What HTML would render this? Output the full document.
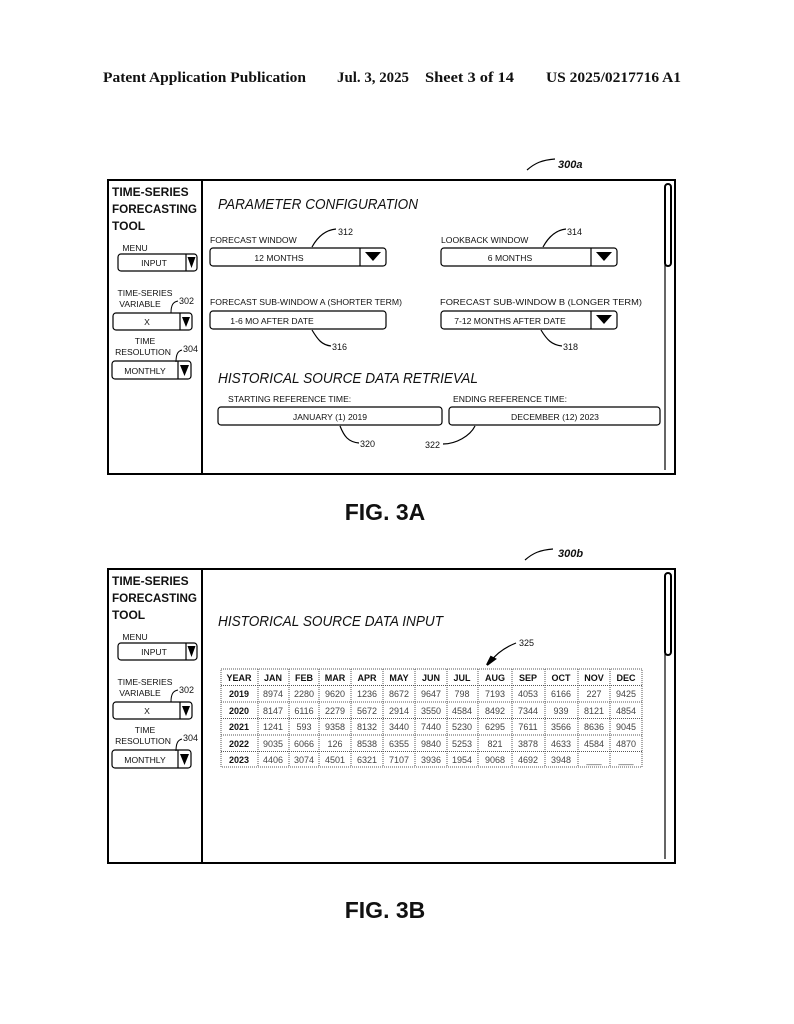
<!DOCTYPE html>
<html><head><meta charset="utf-8"><style>
html,body{margin:0;padding:0;background:#fff}
svg{display:block}
text{font-family:"Liberation Sans",sans-serif;fill:#111}
.h{font-family:"Liberation Serif",serif;font-weight:bold;font-size:14.5px}
.b{font-weight:bold;font-size:12px}
.s{font-size:8.6px}
.it{font-style:italic;font-size:15px}
.f{font-weight:bold;font-size:23px}
.n{font-size:9px}
.tb{font-weight:bold;font-size:9px}
.tn{font-size:9px;fill:#444}
</style></head><body>
<svg width="794" height="1024" viewBox="0 0 794 1024" xmlns="http://www.w3.org/2000/svg">
<text class="h" x="103" y="82" textLength="203" lengthAdjust="spacingAndGlyphs">Patent Application Publication</text>
<text class="h" x="337" y="82" textLength="72" lengthAdjust="spacingAndGlyphs">Jul. 3, 2025</text>
<text class="h" x="425" y="82" textLength="89" lengthAdjust="spacingAndGlyphs">Sheet 3 of 14</text>
<text class="h" x="546" y="82" textLength="135" lengthAdjust="spacingAndGlyphs">US 2025/0217716 A1</text>

<g fill="none" stroke="#000" stroke-width="1.2">
<rect x="108" y="180" width="567" height="294" stroke-width="2"/>
<line x1="202" y1="180" x2="202" y2="474" stroke-width="2"/>
<line x1="665" y1="190" x2="665" y2="470"/>
<rect x="665" y="184" width="6" height="82" rx="3" stroke-width="2"/>
<rect x="108" y="569" width="567" height="294" stroke-width="2"/>
<line x1="202" y1="569" x2="202" y2="863" stroke-width="2"/>
<line x1="665" y1="579" x2="665" y2="859"/>
<rect x="665" y="573" width="6" height="82" rx="3" stroke-width="2"/>
</g>

<g id="sb">
<text class="b" x="112" y="196">TIME-SERIES</text>
<text class="b" x="112" y="213" textLength="85" lengthAdjust="spacingAndGlyphs">FORECASTING</text>
<text class="b" x="112" y="230">TOOL</text>
<text class="s" x="135" y="251" text-anchor="middle">MENU</text>
<rect x="118" y="254" width="79" height="17" rx="3" fill="none" stroke="#000" stroke-width="1.2"/>
<line x1="186" y1="254" x2="186" y2="271" stroke="#000" stroke-width="1.2"/>
<path d="M187.5 257 L195.5 257 L191.5 268Z" fill="#000"/>
<text class="s" x="154" y="266" text-anchor="middle">INPUT</text>
<text class="s" x="145" y="296" text-anchor="middle">TIME-SERIES</text>
<text class="s" x="140" y="307" text-anchor="middle">VARIABLE</text>
<text class="n" x="179" y="304">302</text>
<path d="M171 313 C171 305 173 302 178 301" fill="none" stroke="#000"/>
<rect x="113" y="313" width="79" height="17" rx="3" fill="none" stroke="#000" stroke-width="1.2"/>
<line x1="180" y1="313" x2="180" y2="330" stroke="#000" stroke-width="1.2"/>
<path d="M182 317 L190 317 L186 327Z" fill="#000"/>
<text class="s" x="147" y="325" text-anchor="middle">X</text>
<text class="s" x="145" y="344" text-anchor="middle">TIME</text>
<text class="s" x="143" y="355" text-anchor="middle">RESOLUTION</text>
<text class="n" x="183" y="352">304</text>
<path d="M176 362 C176 354 178 351 182 350" fill="none" stroke="#000"/>
<rect x="112" y="361" width="79" height="18" rx="3" fill="none" stroke="#000" stroke-width="1.2"/>
<line x1="178" y1="361" x2="178" y2="379" stroke="#000" stroke-width="1.2"/>
<path d="M180 365 L189 365 L184.5 376Z" fill="#000"/>
<text class="s" x="145" y="374" text-anchor="middle">MONTHLY</text>
</g>
<use href="#sb" transform="translate(0,389)"/>

<text class="it" x="218" y="209" textLength="200" lengthAdjust="spacingAndGlyphs">PARAMETER CONFIGURATION</text>
<g fill="none" stroke="#000" stroke-width="1.2">
<rect x="210" y="248" width="176" height="18" rx="3"/><line x1="360" y1="248" x2="360" y2="266"/>
<rect x="441" y="248" width="176" height="18" rx="3"/><line x1="591" y1="248" x2="591" y2="266"/>
<rect x="210" y="311" width="176" height="18" rx="3"/>
<rect x="441" y="311" width="176" height="18" rx="3"/><line x1="591" y1="311" x2="591" y2="329"/>
<rect x="218" y="407" width="224" height="18" rx="3"/>
<rect x="449" y="407" width="211" height="18" rx="3"/>
<path d="M312 247 C318 236 326 230 336 229"/>
<path d="M543 247 C549 236 557 230 566 229"/>
<path d="M312 330 C318 340 322 345 331 346"/>
<path d="M541 330 C547 340 552 345 562 346"/>
<path d="M340 426 C344 436 348 442 359 443"/>
<path d="M475 426 C470 436 456 444 443 444"/>
<path d="M527 170 C535 163 542 160 555 159"/>
<path d="M525 560 C533 553 540 550 553 549"/>
<path d="M516 643 C506 647 497 653 491 661"/>
</g>
<path d="M365 252 L381 252 L373 261Z" fill="#000"/>
<path d="M596 252 L612 252 L604 261Z" fill="#000"/>
<path d="M596 315 L612 315 L604 324Z" fill="#000"/>
<path d="M487 665 L495 659 L491 657Z" fill="#000" stroke="#000" stroke-width="2"/>
<text class="s" x="210" y="243">FORECAST WINDOW</text>
<text class="n" x="338" y="235">312</text>
<text class="s" x="279" y="261" text-anchor="middle">12 MONTHS</text>
<text class="s" x="441" y="243">LOOKBACK WINDOW</text>
<text class="n" x="567" y="235">314</text>
<text class="s" x="510" y="261" text-anchor="middle">6 MONTHS</text>
<text class="s" x="210" y="305" textLength="192" lengthAdjust="spacingAndGlyphs">FORECAST SUB-WINDOW A (SHORTER TERM)</text>
<text class="s" x="272" y="324" text-anchor="middle">1-6 MO AFTER DATE</text>
<text class="n" x="332" y="350">316</text>
<text class="s" x="440" y="305" textLength="202" lengthAdjust="spacingAndGlyphs">FORECAST SUB-WINDOW B (LONGER TERM)</text>
<text class="s" x="510" y="324" text-anchor="middle">7-12 MONTHS AFTER DATE</text>
<text class="n" x="563" y="350">318</text>
<text class="it" x="218" y="383" textLength="260" lengthAdjust="spacingAndGlyphs">HISTORICAL SOURCE DATA RETRIEVAL</text>
<text class="s" x="228" y="402">STARTING REFERENCE TIME:</text>
<text class="s" x="330" y="420" text-anchor="middle">JANUARY (1) 2019</text>
<text class="n" x="360" y="447">320</text>
<text class="s" x="453" y="402">ENDING REFERENCE TIME:</text>
<text class="s" x="555" y="420" text-anchor="middle">DECEMBER (12) 2023</text>
<text class="n" x="425" y="448">322</text>
<text style="font-weight:bold;font-style:italic;font-size:11px" x="558" y="168">300a</text>
<text class="f" x="385" y="520" text-anchor="middle">FIG. 3A</text>

<text class="it" x="218" y="626" textLength="225" lengthAdjust="spacingAndGlyphs">HISTORICAL SOURCE DATA INPUT</text>
<text class="n" x="519" y="646">325</text>
<text style="font-weight:bold;font-style:italic;font-size:11px" x="558" y="557">300b</text>
<g fill="none" stroke="#555" stroke-width="1" stroke-dasharray="1,1">
<rect x="221" y="669" width="421" height="98"/>
<line x1="221" y1="685.5" x2="642" y2="685.5"/><line x1="221" y1="702" x2="642" y2="702"/>
<line x1="221" y1="718.5" x2="642" y2="718.5"/><line x1="221" y1="735" x2="642" y2="735"/>
<line x1="221" y1="751.5" x2="642" y2="751.5"/>
<line x1="258" y1="669" x2="258" y2="767"/><line x1="289" y1="669" x2="289" y2="767"/>
<line x1="319" y1="669" x2="319" y2="767"/><line x1="351" y1="669" x2="351" y2="767"/>
<line x1="383" y1="669" x2="383" y2="767"/><line x1="415" y1="669" x2="415" y2="767"/>
<line x1="447" y1="669" x2="447" y2="767"/><line x1="478" y1="669" x2="478" y2="767"/>
<line x1="512" y1="669" x2="512" y2="767"/><line x1="545" y1="669" x2="545" y2="767"/>
<line x1="578" y1="669" x2="578" y2="767"/><line x1="610" y1="669" x2="610" y2="767"/>
</g>
<g text-anchor="middle">
<text class="tb" x="239" y="681">YEAR</text><text class="tb" x="273" y="681">JAN</text><text class="tb" x="304" y="681">FEB</text><text class="tb" x="335" y="681">MAR</text><text class="tb" x="367" y="681">APR</text><text class="tb" x="399" y="681">MAY</text><text class="tb" x="431" y="681">JUN</text><text class="tb" x="462" y="681">JUL</text><text class="tb" x="495" y="681">AUG</text><text class="tb" x="528" y="681">SEP</text><text class="tb" x="561" y="681">OCT</text><text class="tb" x="594" y="681">NOV</text><text class="tb" x="626" y="681">DEC</text>
<text class="tb" x="239" y="697">2019</text><text class="tn" x="273" y="697">8974</text><text class="tn" x="304" y="697">2280</text><text class="tn" x="335" y="697">9620</text><text class="tn" x="367" y="697">1236</text><text class="tn" x="399" y="697">8672</text><text class="tn" x="431" y="697">9647</text><text class="tn" x="462" y="697">798</text><text class="tn" x="495" y="697">7193</text><text class="tn" x="528" y="697">4053</text><text class="tn" x="561" y="697">6166</text><text class="tn" x="594" y="697">227</text><text class="tn" x="626" y="697">9425</text>
<text class="tb" x="239" y="714">2020</text><text class="tn" x="273" y="714">8147</text><text class="tn" x="304" y="714">6116</text><text class="tn" x="335" y="714">2279</text><text class="tn" x="367" y="714">5672</text><text class="tn" x="399" y="714">2914</text><text class="tn" x="431" y="714">3550</text><text class="tn" x="462" y="714">4584</text><text class="tn" x="495" y="714">8492</text><text class="tn" x="528" y="714">7344</text><text class="tn" x="561" y="714">939</text><text class="tn" x="594" y="714">8121</text><text class="tn" x="626" y="714">4854</text>
<text class="tb" x="239" y="730">2021</text><text class="tn" x="273" y="730">1241</text><text class="tn" x="304" y="730">593</text><text class="tn" x="335" y="730">9358</text><text class="tn" x="367" y="730">8132</text><text class="tn" x="399" y="730">3440</text><text class="tn" x="431" y="730">7440</text><text class="tn" x="462" y="730">5230</text><text class="tn" x="495" y="730">6295</text><text class="tn" x="528" y="730">7611</text><text class="tn" x="561" y="730">3566</text><text class="tn" x="594" y="730">8636</text><text class="tn" x="626" y="730">9045</text>
<text class="tb" x="239" y="747">2022</text><text class="tn" x="273" y="747">9035</text><text class="tn" x="304" y="747">6066</text><text class="tn" x="335" y="747">126</text><text class="tn" x="367" y="747">8538</text><text class="tn" x="399" y="747">6355</text><text class="tn" x="431" y="747">9840</text><text class="tn" x="462" y="747">5253</text><text class="tn" x="495" y="747">821</text><text class="tn" x="528" y="747">3878</text><text class="tn" x="561" y="747">4633</text><text class="tn" x="594" y="747">4584</text><text class="tn" x="626" y="747">4870</text>
<text class="tb" x="239" y="763">2023</text><text class="tn" x="273" y="763">4406</text><text class="tn" x="304" y="763">3074</text><text class="tn" x="335" y="763">4501</text><text class="tn" x="367" y="763">6321</text><text class="tn" x="399" y="763">7107</text><text class="tn" x="431" y="763">3936</text><text class="tn" x="462" y="763">1954</text><text class="tn" x="495" y="763">9068</text><text class="tn" x="528" y="763">4692</text><text class="tn" x="561" y="763">3948</text><text class="tn" x="594" y="763">___</text><text class="tn" x="626" y="763">___</text>
</g>
<text class="f" x="385" y="918" text-anchor="middle">FIG. 3B</text>
</svg>
</body></html>
